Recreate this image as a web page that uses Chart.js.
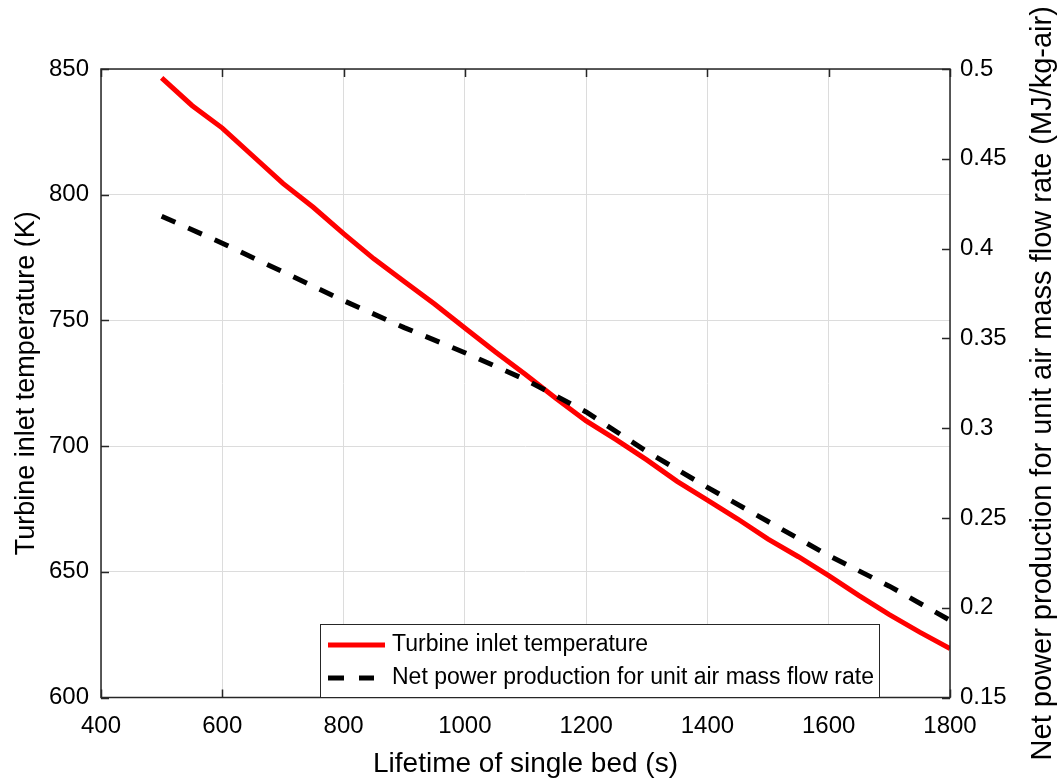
<!DOCTYPE html>
<html>
<head>
<meta charset="utf-8">
<script src="https://cdn.jsdelivr.net/npm/chart.js@4.4.0/dist/chart.umd.min.js"></script>
<style>
  html, body { margin: 0; padding: 0; background: #fff; }
  #wrap { width: 1058px; height: 778px; }
</style>
</head>
<body>
<div id="wrap"><canvas id="bedChart" width="1058" height="778"></canvas></div>
<script>
// Turbine inlet temperature (K) vs bed lifetime (s)
const lifetimeTemp = [500, 550, 600, 650, 700, 750, 800, 850, 900, 950, 1000, 1050, 1100, 1150,
  1200, 1250, 1300, 1350, 1400, 1450, 1500, 1550, 1600, 1650, 1700, 1750, 1800];
const inletTemp = [846.5, 835.5, 826.5, 815.5, 804.5, 795, 784.5, 774.5, 765.5, 756.5, 747, 737.5, 728.5, 719,
  710, 702.5, 694.5, 686, 678.5, 671, 663, 656, 648.5, 640.5, 633, 626, 619.5];

// Net power per unit air mass flow (MJ/kg-air) vs bed lifetime (s)
const lifetimePower = [500, 600, 700, 800, 900, 1000, 1100, 1200, 1300, 1400, 1500, 1600, 1700, 1800];
const netPower = [0.418, 0.403, 0.387, 0.371, 0.356, 0.342, 0.327, 0.309, 0.287, 0.267, 0.248, 0.229, 0.212, 0.193];

// tick labels
const xTicks = [400, 600, 800, 1000, 1200, 1400, 1600, 1800];
const tempTicks = [600, 650, 700, 750, 800, 850];
const powerTicks = [0.15, 0.2, 0.25, 0.3, 0.35, 0.4, 0.45, 0.5];

const FONT = '"Liberation Sans", Arial, Helvetica, sans-serif';
const AXIS_COLOR = '#262626';

// box round the plot, inward ticks on all sides, legend and the right-hand title
const frame = {
  id: 'frame',
  afterDatasetsDraw(chart) {
    const { ctx, chartArea: a, scales } = chart;
    const tick = 8;
    ctx.save();
    ctx.strokeStyle = AXIS_COLOR;
    ctx.lineWidth = 1.5;
    ctx.beginPath();
    xTicks.forEach(v => {
      const x = Math.round(scales.x.getPixelForValue(v)) + 0.5;
      ctx.moveTo(x, a.bottom); ctx.lineTo(x, a.bottom - tick);
      ctx.moveTo(x, a.top); ctx.lineTo(x, a.top + tick);
    });
    tempTicks.forEach(v => {
      const y = Math.round(scales.y.getPixelForValue(v)) + 0.5;
      ctx.moveTo(a.left, y); ctx.lineTo(a.left + tick, y);
    });
    powerTicks.forEach(v => {
      const y = Math.round(scales.y1.getPixelForValue(v)) + 0.5;
      ctx.moveTo(a.right, y); ctx.lineTo(a.right - tick, y);
    });
    ctx.stroke();
    ctx.strokeRect(a.left, a.top, a.right - a.left, a.bottom - a.top);

    // legend
    const lx = 320.5, ly = 624.5, lw = 559, lh = 73;
    ctx.fillStyle = '#fff';
    ctx.fillRect(lx, ly, lw, lh);
    ctx.lineWidth = 1;
    ctx.strokeRect(lx, ly, lw, lh);
    ctx.lineWidth = 5;
    ctx.strokeStyle = '#ff0000';
    ctx.beginPath(); ctx.moveTo(328, 645); ctx.lineTo(385, 645); ctx.stroke();
    ctx.strokeStyle = '#000';
    ctx.beginPath();
    ctx.moveTo(328, 678); ctx.lineTo(344, 678);
    ctx.moveTo(359, 678); ctx.lineTo(374, 678);
    ctx.stroke();
    ctx.fillStyle = '#000';
    ctx.font = '23px ' + FONT;
    ctx.textBaseline = 'middle';
    ctx.textAlign = 'left';
    ctx.fillText('Turbine inlet temperature', 392, 645);
    ctx.fillText('Net power production for unit air mass flow rate', 392, 678);

    // right axis title, reading bottom to top
    ctx.translate(1043, (a.top + a.bottom) / 2);
    ctx.rotate(-Math.PI / 2);
    ctx.font = '29px ' + FONT;
    ctx.textAlign = 'center';
    ctx.fillText('Net power production for unit air mass flow rate (MJ/kg-air)', 0, 0);
    ctx.restore();
  }
};

const pts = (xs, ys) => xs.map((x, i) => ({ x: x, y: ys[i] }));
const setTicks = list => scale => { scale.ticks = list.map(v => ({ value: v })); };

new Chart(document.getElementById('bedChart'), {
  type: 'line',
  data: {
    datasets: [
      {
        label: 'Net power production for unit air mass flow rate',
        data: pts(lifetimePower, netPower),
        yAxisID: 'y1',
        borderColor: '#000',
        borderWidth: 5,
        borderDash: [15, 14],
        pointRadius: 0,
        tension: 0,
        order: 0
      },
      {
        label: 'Turbine inlet temperature',
        data: pts(lifetimeTemp, inletTemp),
        yAxisID: 'y',
        borderColor: '#ff0000',
        borderWidth: 5,
        pointRadius: 0,
        tension: 0,
        order: 1
      }
    ]
  },
  options: {
    responsive: false,
    animation: false,
    layout: { padding: { top: 69, left: 0, right: 0, bottom: 0 } },
    plugins: { legend: { display: false }, tooltip: { enabled: false } },
    scales: {
      x: {
        type: 'linear',
        min: 400, max: 1800,
        afterBuildTicks: setTicks(xTicks),
        afterFit: s => { s.height = 80.5; },
        grid: { color: '#dcdcdc', drawTicks: false },
        border: { display: false },
        ticks: { color: '#000', font: { family: FONT, size: 24 }, padding: 14, maxRotation: 0,
                 callback: v => String(v) },
        title: { display: true, text: 'Lifetime of single bed (s)', color: '#000',
                 font: { family: FONT, size: 28, lineHeight: 1 }, padding: { top: 0, bottom: 0 } }
      },
      y: {
        position: 'left',
        min: 600, max: 850,
        afterBuildTicks: setTicks(tempTicks),
        afterFit: s => { s.width = 101; },
        grid: { color: '#dcdcdc', drawTicks: false },
        border: { display: false },
        ticks: { color: '#000', font: { family: FONT, size: 24 }, padding: 12,
                 callback: v => String(v) },
        title: { display: true, text: 'Turbine inlet temperature (K)', color: '#000',
                 font: { family: FONT, size: 27, lineHeight: 1 }, padding: { top: 13, bottom: 0 } }
      },
      y1: {
        position: 'right',
        min: 0.15, max: 0.5,
        afterBuildTicks: setTicks(powerTicks),
        afterFit: s => { s.width = 108; },
        grid: { drawOnChartArea: false, drawTicks: false },
        border: { display: false },
        ticks: { color: '#000', font: { family: FONT, size: 24 }, padding: 10,
                 callback: v => String(+v.toFixed(2)) }
      }
    }
  },
  plugins: [frame]
});
</script>
</body>
</html>
